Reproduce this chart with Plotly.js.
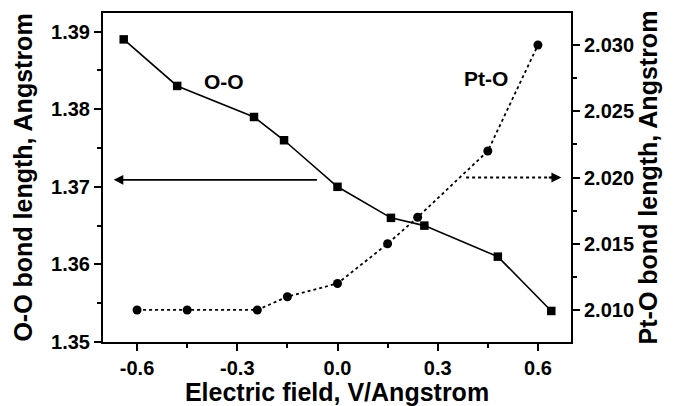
<!DOCTYPE html>
<html><head><meta charset="utf-8">
<script src="https://cdn.plot.ly/plotly-3.0.1.min.js"></script>
<style>html,body{margin:0;padding:0;background:#fff}#chart{width:673px;height:406px}</style>
</head><body><div id="chart"></div>
<script>
const fieldOO = [-0.64, -0.48, -0.25, -0.16, 0.0, 0.16, 0.26, 0.48, 0.64];
const lengthOO = [1.389, 1.383, 1.379, 1.376, 1.370, 1.366, 1.365, 1.361, 1.354];
const fieldPtO = [-0.6, -0.45, -0.24, -0.15, 0.0, 0.15, 0.24, 0.45, 0.6];
const lengthPtO = [2.010, 2.010, 2.010, 2.011, 2.012, 2.015, 2.017, 2.022, 2.030];
const arrowLeftX = [-0.057, -0.67];
const arrowLeftY = [1.3709, 1.3709];
const arrowRightX = [0.385, 0.67];
const arrowRightY = [2.020, 2.020];
const xTicks = [-0.6, -0.3, 0.0, 0.3, 0.6];
const xTickText = ['-0.6', '-0.3', '0.0', '0.3', '0.6'];
const yTicks = [1.35, 1.36, 1.37, 1.38, 1.39];
const y2Ticks = [2.010, 2.015, 2.020, 2.025, 2.030];
const y2TickText = ['2.010', '2.015', '2.020', '2.025', '2.030'];

const F = 'Liberation Sans, Arial, Helvetica, sans-serif';
const traces = [
  {x: fieldOO, y: lengthOO, type: 'scatter', mode: 'lines+markers', yaxis: 'y',
   line: {color: '#000', width: 1.6}, marker: {symbol: 'square', size: 8.5, color: '#000'}, cliponaxis: false},
  {x: fieldPtO, y: lengthPtO, type: 'scatter', mode: 'lines+markers', yaxis: 'y2',
   line: {color: '#000', width: 1.8, dash: 'dot'}, marker: {symbol: 'circle', size: 9, color: '#000'}, cliponaxis: false},
  {x: arrowRightX, y: arrowRightY, type: 'scatter', mode: 'lines', yaxis: 'y2',
   line: {color: '#000', width: 1.8, dash: 'dot'}}
];
const axisCommon = {showgrid: false, zeroline: false, showline: true, linecolor: '#000', linewidth: 2,
  ticks: 'outside', ticklen: 7, tickwidth: 2, tickcolor: '#000',
  tickfont: {family: F, size: 20, color: '#000', weight: 'bold'}};
const titleFont = {family: F, size: 25, weight: 'bold', color: '#000'};
const labelFont = {family: F, size: 21, weight: 'bold', color: '#000'};
const layout = {
  width: 673, height: 406,
  margin: {l: 103, r: 102, t: 13, b: 64},
  paper_bgcolor: '#fff', plot_bgcolor: '#fff', showlegend: false,
  font: {family: F, color: '#000'},
  xaxis: Object.assign({}, axisCommon, {range: [-0.702, 0.699], tickvals: xTicks, ticktext: xTickText, mirror: true,
    minor: {dtick: 0.15, tick0: 0, ticks: 'outside', ticklen: 4, tickwidth: 2, tickcolor: '#000'},
    title: {text: 'Electric field, V/Angstrom', font: titleFont, standoff: 4}}),
  yaxis: Object.assign({}, axisCommon, {range: [1.35, 1.3924], tickvals: yTicks,
    minor: {dtick: 0.005, tick0: 1.35, ticks: 'outside', ticklen: 4, tickwidth: 2, tickcolor: '#000'},
    title: {text: 'O-O bond length, Angstrom', font: titleFont, standoff: 11}}),
  yaxis2: Object.assign({}, axisCommon, {overlaying: 'y', side: 'right', range: [2.00758, 2.03242],
    tickvals: y2Ticks, ticktext: y2TickText,
    minor: {dtick: 0.0025, tick0: 2.0, ticks: 'outside', ticklen: 4, tickwidth: 2, tickcolor: '#000'},
    title: {text: 'Pt-O bond length, Angstrom', font: titleFont, standoff: 6}}),
  annotations: [
    {text: 'O-O', x: -0.34, y: 1.3836, xref: 'x', yref: 'y', showarrow: false, font: labelFont},
    {text: 'Pt-O', x: 0.445, y: 2.0275, xref: 'x', yref: 'y2', showarrow: false, font: labelFont},
    {text: '', x: arrowLeftX[1], y: arrowLeftY[1], xref: 'x', yref: 'y', ax: arrowLeftX[0], ay: arrowLeftY[0],
     axref: 'x', ayref: 'y', showarrow: true, arrowhead: 2, arrowsize: 1.2, arrowwidth: 1.6, arrowcolor: '#000'},
    {text: '', x: arrowRightX[1], y: arrowRightY[1], xref: 'x', yref: 'y2', ax: -14, ay: 0,
     showarrow: true, arrowhead: 2, arrowsize: 1.1, arrowwidth: 1.8, arrowcolor: '#000'}
  ]
};
Plotly.newPlot('chart', traces, layout, {displayModeBar: false, staticPlot: true});
</script></body></html>
